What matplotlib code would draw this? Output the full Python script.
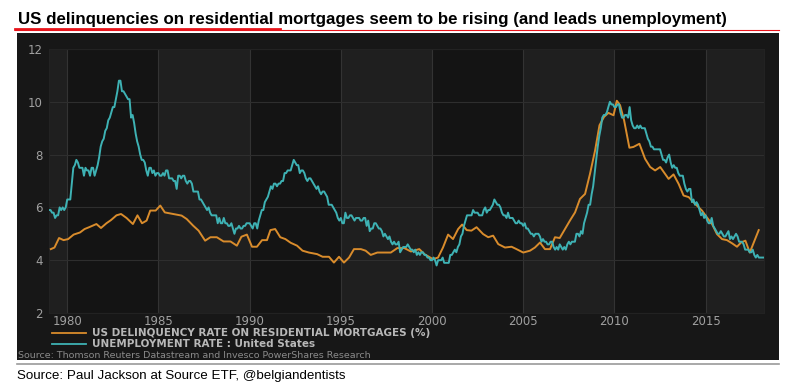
import matplotlib
matplotlib.use('Agg')
import matplotlib.pyplot as plt
import numpy
from matplotlib.lines import Line2D
from matplotlib.patches import Rectangle

# monthly unemployment rate, Jan 1979 .. Mar 2018
unemployment = [
    5.9, 5.9, 5.8, 5.8, 5.6, 5.7, 5.7, 6.0, 5.9, 6.0, 5.9, 6.0,   # 1979
    6.3, 6.3, 6.3, 6.9, 7.5, 7.6, 7.8, 7.7, 7.5, 7.5, 7.5, 7.2,   # 1980
    7.5, 7.4, 7.4, 7.2, 7.5, 7.5, 7.2, 7.4, 7.6, 7.9, 8.3, 8.5,   # 1981
    8.6, 8.9, 9.0, 9.3, 9.4, 9.6, 9.8, 9.8, 10.1, 10.4, 10.8, 10.8,  # 1982
    10.4, 10.4, 10.3, 10.2, 10.1, 10.1, 9.4, 9.5, 9.2, 8.8, 8.5, 8.3,  # 1983
    8.0, 7.8, 7.8, 7.7, 7.4, 7.2, 7.5, 7.5, 7.3, 7.4, 7.2, 7.3,   # 1984
    7.3, 7.2, 7.2, 7.3, 7.2, 7.4, 7.4, 7.1, 7.1, 7.1, 7.0, 7.0,   # 1985
    6.7, 7.2, 7.2, 7.1, 7.2, 7.2, 7.0, 6.9, 7.0, 7.0, 6.9, 6.6,   # 1986
    6.6, 6.6, 6.6, 6.3, 6.3, 6.2, 6.1, 6.0, 5.9, 6.0, 5.8, 5.7,   # 1987
    5.7, 5.7, 5.7, 5.4, 5.6, 5.4, 5.4, 5.6, 5.4, 5.4, 5.3, 5.3,   # 1988
    5.4, 5.2, 5.0, 5.2, 5.2, 5.3, 5.2, 5.2, 5.3, 5.3, 5.4, 5.4,   # 1989
    5.4, 5.3, 5.2, 5.4, 5.4, 5.2, 5.5, 5.7, 5.9, 5.9, 6.2, 6.3,   # 1990
    6.4, 6.6, 6.8, 6.7, 6.9, 6.9, 6.8, 6.9, 6.9, 7.0, 7.0, 7.3,   # 1991
    7.3, 7.4, 7.4, 7.4, 7.6, 7.8, 7.7, 7.6, 7.6, 7.3, 7.4, 7.4,   # 1992
    7.3, 7.1, 7.0, 7.1, 7.1, 7.0, 6.9, 6.8, 6.7, 6.8, 6.6, 6.5,   # 1993
    6.6, 6.6, 6.5, 6.4, 6.1, 6.1, 6.1, 6.0, 5.9, 5.8, 5.6, 5.5,   # 1994
    5.6, 5.4, 5.4, 5.8, 5.6, 5.6, 5.7, 5.7, 5.6, 5.5, 5.6, 5.6,   # 1995
    5.6, 5.5, 5.5, 5.6, 5.6, 5.3, 5.5, 5.1, 5.2, 5.2, 5.4, 5.4,   # 1996
    5.3, 5.2, 5.2, 5.1, 4.9, 5.0, 4.9, 4.8, 4.9, 4.7, 4.6, 4.7,   # 1997
    4.6, 4.6, 4.7, 4.3, 4.4, 4.5, 4.5, 4.5, 4.6, 4.5, 4.4, 4.4,   # 1998
    4.3, 4.4, 4.2, 4.3, 4.2, 4.3, 4.3, 4.2, 4.2, 4.1, 4.1, 4.0,   # 1999
    4.0, 4.1, 4.0, 3.8, 4.0, 4.0, 4.0, 4.1, 3.9, 3.9, 3.9, 3.9,   # 2000
    4.2, 4.2, 4.3, 4.4, 4.3, 4.5, 4.6, 4.9, 5.0, 5.3, 5.5, 5.7,   # 2001
    5.7, 5.7, 5.7, 5.9, 5.8, 5.8, 5.8, 5.7, 5.7, 5.7, 5.9, 6.0,   # 2002
    5.8, 5.9, 5.9, 6.0, 6.1, 6.3, 6.2, 6.1, 6.1, 6.0, 5.8, 5.7,   # 2003
    5.7, 5.6, 5.8, 5.6, 5.6, 5.6, 5.5, 5.4, 5.4, 5.5, 5.4, 5.4,   # 2004
    5.3, 5.4, 5.2, 5.2, 5.1, 5.0, 5.0, 4.9, 5.0, 5.0, 5.0, 4.9,   # 2005
    4.7, 4.8, 4.7, 4.7, 4.6, 4.6, 4.7, 4.7, 4.5, 4.4, 4.5, 4.4,   # 2006
    4.6, 4.5, 4.4, 4.5, 4.4, 4.6, 4.7, 4.6, 4.7, 4.7, 4.7, 5.0,   # 2007
    5.0, 4.9, 5.1, 5.0, 5.4, 5.6, 5.8, 6.1, 6.1, 6.5, 6.8, 7.3,   # 2008
    7.8, 8.3, 8.7, 9.0, 9.4, 9.5, 9.5, 9.6, 9.8, 10.0, 9.9, 9.9,  # 2009
    9.8, 9.8, 9.9, 9.9, 9.6, 9.4, 9.4, 9.5, 9.5, 9.4, 9.8, 9.3,   # 2010
    9.1, 9.0, 9.0, 9.1, 9.0, 9.1, 9.0, 9.0, 9.0, 8.8, 8.6, 8.5,   # 2011
    8.3, 8.3, 8.2, 8.2, 8.2, 8.2, 8.2, 8.0, 7.8, 7.8, 7.7, 7.9,   # 2012
    8.0, 7.7, 7.5, 7.6, 7.5, 7.5, 7.3, 7.2, 7.2, 7.2, 6.9, 6.7,   # 2013
    6.6, 6.7, 6.7, 6.2, 6.3, 6.1, 6.2, 6.1, 5.9, 5.7, 5.8, 5.6,   # 2014
    5.7, 5.5, 5.4, 5.4, 5.6, 5.3, 5.2, 5.1, 5.0, 5.0, 5.1, 5.0,   # 2015
    4.9, 4.9, 5.0, 5.1, 4.8, 4.9, 4.8, 4.9, 5.0, 4.9, 4.7, 4.7,   # 2016
    4.7, 4.6, 4.4, 4.4, 4.4, 4.3, 4.3, 4.4, 4.2, 4.1, 4.2, 4.1,   # 2017
    4.1, 4.1, 4.1,                                                # 2018
]
unemp_start = 1979.0

# delinquency rate
delinq_years = [
    1979.1, 1979.3, 1979.55, 1979.8, 1980.05, 1980.35, 1980.7, 1980.95,
    1981.2, 1981.6, 1981.85, 1982.15, 1982.4, 1982.7, 1982.95, 1983.25,
    1983.6, 1983.85, 1984.1, 1984.35, 1984.55, 1984.85, 1985.1, 1985.35,
    1985.8, 1986.27, 1986.55, 1986.9, 1987.2, 1987.56, 1987.85, 1988.2,
    1988.57, 1988.95, 1989.3, 1989.55, 1989.85, 1990.13, 1990.4, 1990.68,
    1990.95, 1991.14, 1991.4, 1991.68, 1991.96, 1992.25, 1992.6, 1992.9,
    1993.25, 1993.7, 1994.0, 1994.35, 1994.62, 1994.9, 1995.17, 1995.45,
    1995.72, 1996.1, 1996.36, 1996.64, 1997.0, 1997.38, 1997.74, 1998.1,
    1998.48, 1998.84, 1999.3, 1999.58, 2000.05, 2000.33, 2000.6, 2000.88,
    2001.15, 2001.43, 2001.65, 2001.9, 2002.16, 2002.44, 2002.8, 2003.08,
    2003.35, 2003.63, 2004.0, 2004.36, 2004.63, 2005.0, 2005.37, 2005.64,
    2005.92, 2006.19, 2006.47, 2006.74, 2007.0, 2007.29, 2007.56, 2007.84,
    2008.11, 2008.39, 2008.66, 2008.94, 2009.18, 2009.43, 2009.67, 2009.95,
    2010.13, 2010.31, 2010.53, 2010.82, 2011.04, 2011.37, 2011.68, 2011.96,
    2012.23, 2012.51, 2012.78, 2012.97, 2013.24, 2013.52, 2013.79, 2014.07,
    2014.43, 2014.8, 2015.07, 2015.35, 2015.62, 2015.9, 2016.17, 2016.45,
    2016.72, 2016.94, 2017.18, 2017.42, 2017.64, 2017.91,
]
delinq_rate = [
    4.42, 4.48, 4.84, 4.76, 4.80, 4.97, 5.05, 5.18,
    5.25, 5.37, 5.22, 5.40, 5.52, 5.70, 5.75, 5.60,
    5.37, 5.70, 5.40, 5.50, 5.88, 5.88, 6.07, 5.81,
    5.75, 5.69, 5.56, 5.31, 5.12, 4.74, 4.87, 4.87,
    4.71, 4.71, 4.55, 4.89, 4.97, 4.51, 4.51, 4.76,
    4.76, 5.14, 5.18, 4.87, 4.80, 4.66, 4.55, 4.36,
    4.29, 4.23, 4.13, 4.13, 3.91, 4.13, 3.91, 4.10,
    4.42, 4.42, 4.36, 4.20, 4.29, 4.29, 4.29, 4.46,
    4.46, 4.33, 4.42, 4.23, 4.04, 4.10, 4.48, 4.97,
    4.80, 5.18, 5.35, 5.14, 5.12, 5.25, 4.99, 4.87,
    4.93, 4.61, 4.48, 4.51, 4.42, 4.29, 4.36, 4.48,
    4.67, 4.42, 4.42, 4.87, 4.84, 5.18, 5.50, 5.81,
    6.32, 6.51, 7.27, 8.16, 9.11, 9.43, 9.58, 9.49,
    10.04, 9.87, 9.30, 8.26, 8.29, 8.41, 7.84, 7.53,
    7.40, 7.53, 7.27, 7.08, 7.25, 6.89, 6.45, 6.39,
    6.13, 5.88, 5.62, 5.37, 4.99, 4.80, 4.76, 4.64,
    4.51, 4.67, 4.74, 4.29, 4.67, 5.14,
]

x_ticks = [1980, 1985, 1990, 1995, 2000, 2005, 2010, 2015]
y_ticks = [2, 4, 6, 8, 10, 12]

title = 'US delinquencies on residential mortgages seem to be rising (and leads unemployment)'
legend_labels = ['US DELINQUENCY RATE ON RESIDENTIAL MORTGAGES (%)',
                 'UNEMPLOYMENT RATE : United States']
inner_source = 'Source: Thomson Reuters Datastream and Invesco PowerShares Research'
outer_source = 'Source: Paul Jackson at Source ETF, @belgiandentists'

ORANGE = '#d98c2c'
TEAL = '#3eb2b4'
PANEL = '#171717'

W, H = 803, 385
fig = plt.figure(figsize=(W / 100, H / 100), dpi=100)
fig.patch.set_facecolor('white')

# dark panel behind the chart
fig.patches.append(Rectangle((17 / W, 1 - 360 / H), (779 - 17) / W, (360 - 32.5) / H,
                             transform=fig.transFigure, facecolor=PANEL,
                             edgecolor='none', zorder=0))
# grey rule under the panel
fig.add_artist(Line2D([17 / W, 779 / W], [1 - 364 / H] * 2, color='#9a9a9a', lw=1.2))

# title and red underline
fig.text(18 / W, 1 - 24 / H, title, fontsize=12.2, fontweight='bold',
         family='Liberation Sans', color='black', va='baseline', ha='left')
fig.add_artist(Line2D([15 / W, 779 / W], [1 - 30 / H] * 2, color='#e8141b', lw=0.8))
fig.add_artist(Line2D([15 / W, 280 / W], [1 - 28.8 / H] * 2, color='#e8141b', lw=2.0))

ax = fig.add_axes([49 / W, 1 - 313 / H, (764 - 49) / W, (313 - 49) / H])
ax.set_zorder(2)
ax.set_facecolor('#141414')

x0, x1 = 1979.0, 2018.2
ax.set_xlim(x0, x1)
ax.set_ylim(2, 12)

# alternating 5-year bands
edges = [x0] + x_ticks + [x1]
for i in range(len(edges) - 1):
    if i % 2 == 0:
        ax.axvspan(edges[i], edges[i + 1], color='#1f1f1f', lw=0, zorder=0)

for xv in x_ticks:
    ax.axvline(xv, color='#333333', lw=0.8, zorder=1)
for yv in y_ticks:
    ax.axhline(yv, color='#2e2e2e', lw=0.8, zorder=1)

unemp_x = unemp_start + numpy.arange(len(unemployment)) / 12.0
ax.plot(delinq_years, delinq_rate, color=ORANGE, lw=1.4, zorder=3)
ax.plot(unemp_x, unemployment, color=TEAL, lw=1.4, zorder=4)

ax.set_xticks(x_ticks)
ax.set_yticks(y_ticks)
ax.tick_params(length=0, colors='#a0a0a0', labelsize=8.5)
ax.tick_params(axis='x', pad=1.5)
ax.tick_params(axis='y', pad=4.5)
for s in ax.spines.values():
    s.set_color('#222222')
    s.set_linewidth(0.8)

# legend drawn under the axis
for k, (lab, col) in enumerate(zip(legend_labels, [ORANGE, TEAL])):
    yy = 1 - (332.5 + 11.5 * k) / H
    fig.add_artist(Line2D([52 / W, 86 / W], [yy, yy], color=col, lw=1.3, zorder=3))
    fig.text(92 / W, yy, lab, fontsize=7.5, fontweight='bold', color='#b8b8b8',
             va='center', ha='left')

fig.text(18 / W, 1 - 355.5 / H, inner_source, fontsize=6.8, color='#8a8a8a',
         va='center', ha='left')
fig.text(17 / W, 1 - 376 / H, outer_source, fontsize=9.6, color='black',
         family='Liberation Sans', va='center', ha='left')

fig.savefig('out.png', dpi=100, facecolor=fig.get_facecolor())
plt.close()
